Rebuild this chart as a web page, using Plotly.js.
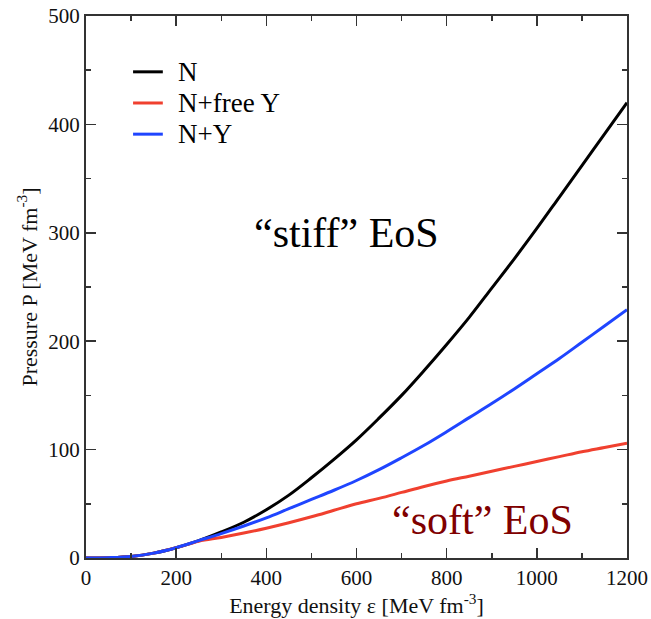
<!DOCTYPE html>
<html>
<head>
<meta charset="utf-8">
<script src="https://cdn.plot.ly/plotly-3.0.1.min.js"></script>
<style>html,body{margin:0;padding:0;background:#fff;}#chart{width:651px;height:619px;}</style>
</head>
<body>
<div id="chart"></div>
<script>
const energyDensity = [0, 50, 100, 150, 200, 250, 300, 350, 400, 450, 500, 550, 600, 650, 700, 750, 800, 850, 900, 950, 1000, 1050, 1100, 1150, 1200];
const pressureN      = [0, 0.3, 1.4, 4.5, 9.5, 16, 24, 33, 44.5, 58, 74, 91, 109, 129, 150, 173, 197, 222, 249, 276, 304, 333, 362, 391, 420];
const pressureNfreeY = [0, 0.3, 1.4, 4.5, 9.5, 15.5, 19, 23, 27.5, 32.5, 38, 44, 50, 55, 60.5, 66, 71, 75.5, 80, 84.5, 89, 93.5, 98, 102, 106];
const pressureNY     = [0, 0.3, 1.4, 4.5, 9.5, 16, 22.5, 29.5, 37, 45.5, 54, 62.5, 71.5, 81.5, 92.5, 104, 116.5, 129.5, 142.5, 156, 170, 184, 199, 214, 229];
const seriesNames = ["N", "N+free Y", "N+Y"];
const seriesColors = ["#000000", "#f0402f", "#1f45ff"];
const xTickVals = [0, 200, 400, 600, 800, 1000, 1200];
const yTickVals = [0, 100, 200, 300, 400, 500];
const labelStiff = "\u201cstiff\u201d EoS";
const labelSoft = "\u201csoft\u201d EoS";

const serif = "Liberation Serif";
const seriesY = [pressureN, pressureNfreeY, pressureNY];
const traces = seriesY.map((ys, i) => ({
  x: energyDensity, y: ys, name: seriesNames[i], type: 'scatter', mode: 'lines',
  showlegend: false,
  line: {color: seriesColors[i], width: 3, shape: 'spline', smoothing: 1}
}));

// legend drawn as line samples + labels (paper coordinates)
const legendRowsY = [0.897, 0.8395, 0.782];
const legendShapes = seriesNames.map((n, i) => ({
  type: 'line', xref: 'paper', yref: 'paper', x0: 0.087, x1: 0.142,
  y0: legendRowsY[i], y1: legendRowsY[i], line: {color: seriesColors[i], width: 3}
}));
const legendLabels = seriesNames.map((n, i) => ({
  xref: 'paper', yref: 'paper', x: 0.166, y: legendRowsY[i], xanchor: 'left', yanchor: 'middle',
  text: n, showarrow: false, valign: 'middle',
  font: {family: serif, size: 27, color: '#000'}
}));

const axisCommon = {
  showgrid: false, zeroline: false, showline: true, linecolor: '#333', linewidth: 2,
  mirror: 'ticks', ticks: 'inside', ticklen: 10, tickwidth: 1.5, tickcolor: '#333',
  tickfont: {family: serif, size: 21, color: '#111'},
};

const layout = {
  width: 651, height: 619,
  margin: {l: 86, r: 24, t: 16, b: 61},
  paper_bgcolor: '#fff', plot_bgcolor: '#fff',
  showlegend: false,
  font: {family: serif},
  xaxis: Object.assign({}, axisCommon, {
    range: [0, 1200], tickvals: xTickVals, ticktext: xTickVals.map(String),
    minor: {dtick: 100, tick0: 0, ticks: 'inside', ticklen: 5, tickwidth: 1.5, tickcolor: '#333'},
    title: {text: 'Energy density \u03b5 [MeV fm<sup>-3</sup>]', font: {family: serif, size: 22, color: '#111'}, standoff: 6}
  }),
  yaxis: Object.assign({}, axisCommon, {
    range: [0, 500], tickvals: yTickVals, ticktext: yTickVals.map(String),
    ticklabelstandoff: 0,
    minor: {dtick: 50, tick0: 0, ticks: 'inside', ticklen: 5, tickwidth: 1.5, tickcolor: '#333'},
    title: {text: 'Pressure P [MeV fm<sup>-3</sup>]', font: {family: serif, size: 22, color: '#111'}, standoff: 5}
  }),
  shapes: legendShapes,
  annotations: legendLabels.concat([
    {x: 577, y: 300, xref: 'x', yref: 'y', text: labelStiff, showarrow: false,
     font: {family: serif, size: 42, color: '#000'}},
    {x: 880, y: 35, xref: 'x', yref: 'y', text: labelSoft, showarrow: false,
     font: {family: serif, size: 42, color: '#800000'}}
  ])
};

Plotly.newPlot('chart', traces, layout, {displayModeBar: false, staticPlot: true});
</script>
</body>
</html>
